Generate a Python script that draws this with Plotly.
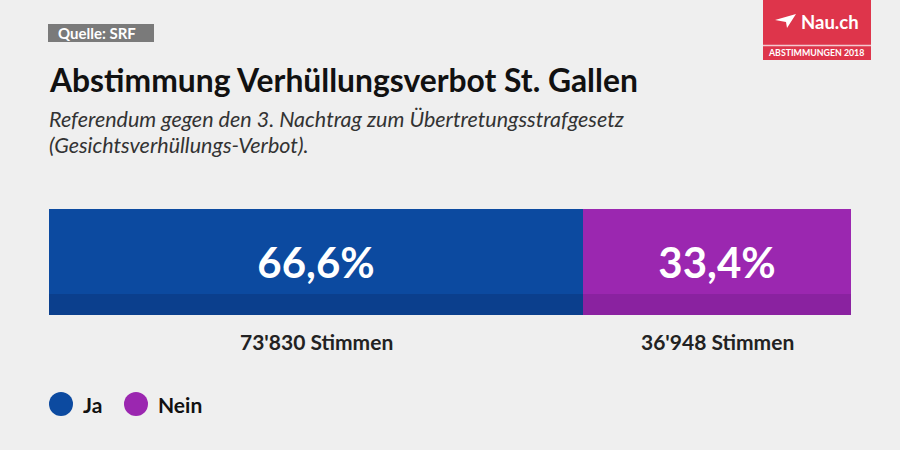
import plotly.graph_objects as go

# ---- data ----
categories = ["Ja", "Nein"]
percent = [66.6, 33.4]
percent_labels = ["66,6%", "33,4%"]
votes_labels = ["73'830 Stimmen", "36'948 Stimmen"]
colors = ["#0c4aa0", "#9b27b0"]
band_colors = ["#0b3f8d", "#8a22a0"]

title = "Abstimmung Verhüllungsverbot St. Gallen"
subtitle_lines = ["Referendum gegen den 3. Nachtrag zum Übertretungsstrafgesetz",
                  "(Gesichtsverhüllungs-Verbot)."]
source = "Quelle: SRF"

W, H = 900, 450
BG = "#efefef"
FONT = "Lato"

fig = go.Figure()

# main bars
for cat, p, lab, col in zip(categories, percent, percent_labels, colors):
    fig.add_trace(go.Bar(
        y=["v"], x=[p], orientation="h", name=cat,
        marker=dict(color=col, line=dict(width=0)),
        text=[lab], textposition="inside", insidetextanchor="middle",
        textfont=dict(family=FONT, size=42, color="white", weight="bold"),
        width=1.0, showlegend=False, hoverinfo="skip",
        xaxis="x", yaxis="y",
    ))
# darker bottom band
for cat, p, col in zip(categories, percent, band_colors):
    fig.add_trace(go.Bar(
        y=["v"], x=[p], orientation="h", name=cat,
        marker=dict(color=col, line=dict(width=0)),
        width=1.0, showlegend=False, hoverinfo="skip",
        xaxis="x2", yaxis="y2",
    ))

x0p, x1p = 49 / W, 851 / W
y_bot, y_top = 1 - 315 / H, 1 - 209 / H
y_band_top = 1 - 294 / H

fig.update_layout(
    width=W, height=H,
    paper_bgcolor=BG, plot_bgcolor="rgba(0,0,0,0)",
    margin=dict(l=0, r=0, t=0, b=0),
    barmode="stack", bargap=0,
    font=dict(family=FONT),
    xaxis=dict(domain=[x0p, x1p], range=[0, sum(percent)], visible=False, fixedrange=True),
    yaxis=dict(domain=[y_bot, y_top], visible=False, fixedrange=True),
    xaxis2=dict(domain=[x0p, x1p], range=[0, sum(percent)], visible=False, anchor="y2"),
    yaxis2=dict(domain=[y_bot, y_band_top], visible=False, anchor="x2"),
    showlegend=False,
)

shapes = []
annotations = []

# votes labels under each segment
cum = 0
for p, vl in zip(percent, votes_labels):
    annotations.append(dict(
        x=cum + p / 2, y=1 - 341 / H, xref="x", yref="paper",
        text=f"<b>{vl}</b>", showarrow=False, xanchor="center", yanchor="middle",
        font=dict(family=FONT, size=21, color="#222222"),
    ))
    cum += p

# title & subtitle
annotations.append(dict(
    x=47 / W, y=1 - 80 / H, xref="paper", yref="paper", text=f"<b>{title}</b>",
    showarrow=False, xanchor="left", yanchor="middle",
    font=dict(family=FONT, size=31.8, color="#111111"),
))
for i, line in enumerate(subtitle_lines):
    annotations.append(dict(
        x=47 / W, y=1 - (119 + 26 * i) / H, xref="paper", yref="paper", text=f"<i>{line}</i>",
        showarrow=False, xanchor="left", yanchor="middle", align="left",
        font=dict(family=FONT, size=21.5, color="#333333"),
    ))

# source box
shapes.append(dict(type="rect", xref="paper", yref="paper",
                   x0=48 / W, x1=154 / W, y0=1 - 42 / H, y1=1 - 24 / H,
                   fillcolor="#7a7a7a", line=dict(width=0), layer="below"))
annotations.append(dict(
    x=56 / W, y=1 - 33 / H, xref="paper", yref="paper", text=f"<b>{source}</b>",
    showarrow=False, xanchor="left", yanchor="middle",
    font=dict(family=FONT, size=15, color="white"),
))

# logo
shapes.append(dict(type="rect", xref="paper", yref="paper",
                   x0=763 / W, x1=871 / W, y0=1 - 60 / H, y1=1.0,
                   fillcolor="#de354b", line=dict(width=0)))
shapes.append(dict(type="line", xref="paper", yref="paper",
                   x0=763 / W, x1=871 / W, y0=1 - 45.5 / H, y1=1 - 45.5 / H,
                   line=dict(color="#f4c9cf", width=1.5)))
shapes.append(dict(type="path", xref="paper", yref="paper",
                   path=f"M {775/W} {1-20/H} L {796/W} {1-14/H} L {787/W} {1-28/H} L {786/W} {1-22/H} Z",
                   fillcolor="white", line=dict(width=0)))
annotations.append(dict(
    x=799 / W, y=1 - 21.5 / H, xref="paper", yref="paper", text="<b>Nau.ch</b>",
    showarrow=False, xanchor="left", yanchor="middle",
    font=dict(family=FONT, size=18.5, color="white"),
))
annotations.append(dict(
    x=816 / W, y=1 - 53 / H, xref="paper", yref="paper", text="<b>ABSTIMMUNGEN 2018</b>",
    showarrow=False, xanchor="center", yanchor="middle",
    font=dict(family=FONT, size=8.8, color="white"),
))

# legend (circles + labels)
leg_x = [61, 136]
for cat, col, lx in zip(categories, colors, leg_x):
    r = 12
    shapes.append(dict(type="circle", xref="paper", yref="paper",
                       x0=(lx - r) / W, x1=(lx + r) / W, y0=1 - (404 + r) / H, y1=1 - (404 - r) / H,
                       fillcolor=col, line=dict(width=0)))
    annotations.append(dict(
        x=(lx + 20) / W, y=1 - 404 / H, xref="paper", yref="paper", text=f"<b>{cat}</b>",
        showarrow=False, xanchor="left", yanchor="middle",
        font=dict(family=FONT, size=21, color="#111111"),
    ))

fig.update_layout(shapes=shapes, annotations=annotations)

fig.write_html(
    "out.html",
    config={"displayModeBar": False},
    post_script="document.body.style.margin='0';document.body.style.background='#efefef';",
)
